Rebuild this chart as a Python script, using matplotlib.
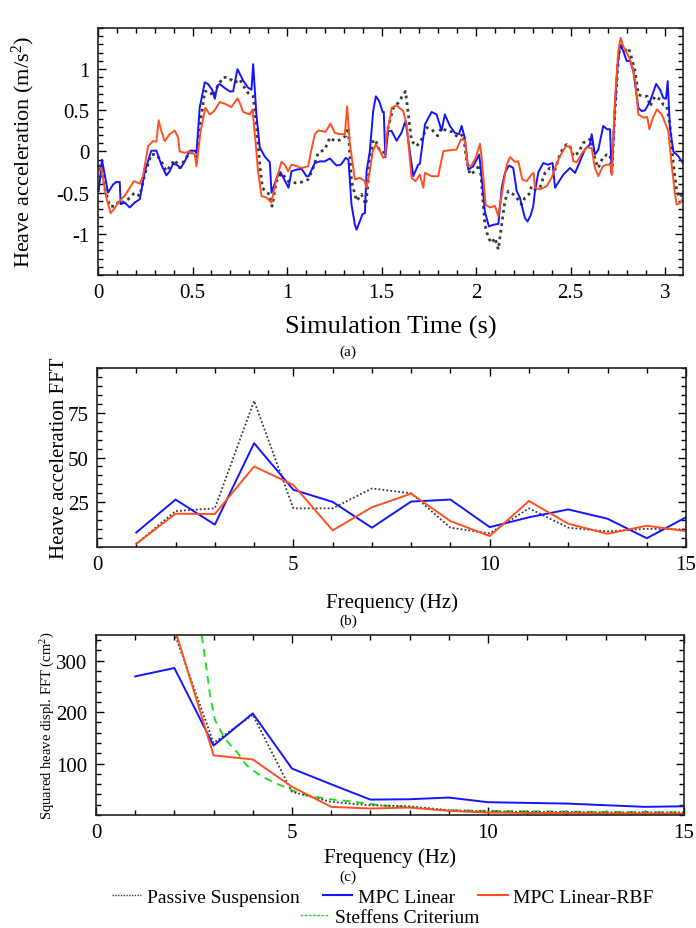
import numpy as np
import matplotlib
matplotlib.use("Agg")
import matplotlib.pyplot as plt
from matplotlib.ticker import MultipleLocator, FuncFormatter
from matplotlib.lines import Line2D

plt.rcParams['font.family'] = ['Liberation Serif', 'DejaVu Serif']
plt.rcParams['mathtext.fontset'] = 'custom'
plt.rcParams['mathtext.rm'] = 'Liberation Serif'
plt.rcParams['mathtext.it'] = 'Liberation Serif:italic'
plt.rcParams['axes.unicode_minus'] = False

# ---- (a) heave acceleration time series ----
t_mpc = [0.004, 0.021, 0.053, 0.080, 0.097, 0.115, 0.120, 0.141, 0.168, 0.194, 0.221, 0.247, 0.282, 0.309,
         0.335, 0.362, 0.379, 0.397, 0.415, 0.438, 0.459, 0.485, 0.512, 0.521, 0.538, 0.565, 0.582, 0.604,
         0.618, 0.632, 0.644, 0.671, 0.697, 0.715, 0.738, 0.768, 0.794, 0.812, 0.821, 0.838, 0.856, 0.882,
         0.909, 0.918, 0.944, 0.965, 1.008, 1.024, 1.050, 1.077, 1.103, 1.115, 1.147, 1.174, 1.200, 1.227,
         1.262, 1.285, 1.311, 1.325, 1.341, 1.359, 1.368, 1.385, 1.400, 1.412, 1.421, 1.438, 1.456, 1.470,
         1.488, 1.506, 1.512, 1.520, 1.535, 1.553, 1.580, 1.606, 1.627, 1.650, 1.668, 1.694, 1.703, 1.730,
         1.765, 1.791, 1.818, 1.835, 1.862, 1.888, 1.910, 1.924, 1.941, 1.959, 1.985, 2.017, 2.030, 2.047,
         2.068, 2.091, 2.118, 2.136, 2.153, 2.174, 2.197, 2.215, 2.232, 2.259, 2.273, 2.290, 2.303, 2.312,
         2.330, 2.356, 2.380, 2.405, 2.418, 2.462, 2.497, 2.524, 2.550, 2.576, 2.603, 2.612, 2.629, 2.647,
         2.673, 2.694, 2.709, 2.718, 2.735, 2.748, 2.762, 2.779, 2.797, 2.815, 2.832, 2.859, 2.877, 2.894,
         2.921, 2.953, 2.974, 2.991, 3.005, 3.014, 3.026, 3.044, 3.070, 3.094]
a_mpc = [-0.48, -0.10, -0.50, -0.40, -0.37, -0.37, -0.64, -0.62, -0.68, -0.62, -0.58, -0.25, 0.01, 0.01,
         -0.16, -0.29, -0.24, -0.15, -0.16, -0.20, -0.12, 0.01, 0.01, -0.02, 0.53, 0.84, 0.82, 0.75,
         0.64, 0.80, 0.82, 0.77, 0.73, 0.73, 1.00, 0.86, 0.775, 0.75, 1.06, 0.45, 0.05, -0.06,
         -0.13, -0.50, -0.33, -0.25, -0.44, -0.24, -0.22, -0.21, -0.30, -0.30, -0.14, -0.12, -0.12, -0.085,
         -0.17, -0.16, -0.077, -0.10, -0.64, -0.89, -0.95, -0.85, -0.76, -0.75, -0.24, 0.00, 0.49, 0.67,
         0.61, 0.48, 0.48, -0.07, 0.25, 0.25, 0.13, 0.23, 0.37, 0.00, -0.30, -0.16, -0.15, 0.33,
         0.48, 0.45, 0.255, 0.45, 0.31, 0.227, 0.21, 0.31, 0.16, -0.22, -0.18, -0.037, -0.32, -0.73,
         -0.91, -0.89, -0.88, -0.44, -0.26, -0.17, -0.20, -0.48, -0.56, -0.81, -0.85, -0.77, -0.66, -0.48,
         -0.25, -0.14, -0.16, -0.14, -0.44, -0.28, -0.20, -0.26, -0.12, 0.024, 0.085, 0.21, -0.037, 0.02,
         0.31, 0.27, 0.27, -0.28, 0.53, 1.02, 1.30, 1.22, 1.10, 1.10, 0.98, 0.53, 0.49, 0.50,
         0.61, 0.82, 0.75, 0.65, 0.64, 0.855, 0.29, 0.00, -0.057, -0.14]

t_rbf = [0.000, 0.018, 0.044, 0.067, 0.088, 0.106, 0.141, 0.168, 0.190, 0.221, 0.238, 0.265, 0.291, 0.309,
         0.321, 0.335, 0.353, 0.379, 0.406, 0.424, 0.432, 0.459, 0.485, 0.512, 0.521, 0.543, 0.568, 0.591,
         0.614, 0.644, 0.671, 0.706, 0.738, 0.750, 0.768, 0.803, 0.817, 0.830, 0.847, 0.865, 0.891, 0.918,
         0.941, 0.971, 0.988, 1.006, 1.024, 1.041, 1.077, 1.112, 1.124, 1.147, 1.165, 1.205, 1.230, 1.253,
         1.279, 1.306, 1.318, 1.332, 1.359, 1.385, 1.412, 1.421, 1.438, 1.453, 1.470, 1.491, 1.509, 1.520,
         1.527, 1.544, 1.553, 1.580, 1.615, 1.633, 1.659, 1.680, 1.703, 1.721, 1.730, 1.765, 1.800, 1.827,
         1.853, 1.897, 1.920, 1.941, 1.956, 1.976, 1.998, 2.021, 2.030, 2.051, 2.074, 2.100, 2.118, 2.139,
         2.162, 2.180, 2.206, 2.224, 2.245, 2.268, 2.294, 2.305, 2.312, 2.338, 2.374, 2.400, 2.418, 2.444,
         2.476, 2.500, 2.515, 2.532, 2.559, 2.585, 2.612, 2.629, 2.647, 2.670, 2.691, 2.712, 2.718, 2.735,
         2.753, 2.765, 2.779, 2.806, 2.824, 2.841, 2.859, 2.886, 2.906, 2.917, 2.936, 2.957, 2.983, 3.000,
         3.017, 3.035, 3.053, 3.062, 3.079, 3.094]
a_rbf = [-0.24, -0.20, -0.56, -0.75, -0.69, -0.62, -0.54, -0.44, -0.36, -0.39, -0.30, 0.065, 0.126, 0.12,
         0.38, 0.25, 0.126, 0.21, 0.255, 0.17, 0.00, -0.016, 0.00, -0.036, -0.18, 0.25, 0.53, 0.45,
         0.49, 0.60, 0.58, 0.54, 0.645, 0.59, 0.48, 0.45, 0.51, 0.21, -0.24, -0.54, -0.56, -0.62,
         -0.36, -0.125, -0.16, -0.24, -0.16, -0.17, -0.20, -0.18, -0.036, 0.21, 0.255, 0.24, 0.34, 0.227,
         0.21, 0.21, 0.55, 0.105, -0.34, -0.32, -0.36, -0.44, -0.24, 0.00, 0.085, 0.01, -0.077, -0.05,
         0.20, 0.39, 0.53, 0.56, 0.49, 0.33, -0.32, -0.36, -0.28, -0.44, -0.26, -0.30, -0.30, 0.004,
         0.012, 0.024, 0.146, 0.14, -0.18, -0.17, -0.077, 0.093, -0.08, -0.645, -0.68, -0.66, -0.787, -0.48,
         -0.16, -0.069, -0.125, -0.12, -0.34, -0.36, -0.28, -0.26, -0.44, -0.46, -0.42, -0.32, -0.20, -0.057,
         0.065, 0.06, -0.118, -0.13, -0.028, 0.053, 0.04, -0.20, -0.30, -0.18, -0.16, -0.16, -0.28, 0.61,
         1.22, 1.38, 1.28, 1.16, 1.06, 0.876, 0.45, 0.41, 0.42, 0.27, 0.41, 0.51, 0.45, 0.35,
         0.25, -0.16, -0.52, -0.645, -0.625, -0.58]

t_pas = [0.000, 0.018, 0.035, 0.062, 0.088, 0.115, 0.141, 0.168, 0.194, 0.221, 0.247, 0.282, 0.309, 0.335,
         0.362, 0.388, 0.406, 0.432, 0.459, 0.485, 0.512, 0.521, 0.543, 0.565, 0.591, 0.609, 0.632, 0.662,
         0.688, 0.723, 0.750, 0.768, 0.794, 0.821, 0.835, 0.847, 0.856, 0.870, 0.891, 0.909, 0.921, 0.944,
         0.971, 1.006, 1.033, 1.068, 1.112, 1.138, 1.165, 1.200, 1.227, 1.253, 1.279, 1.311, 1.324, 1.341,
         1.368, 1.394, 1.417, 1.438, 1.456, 1.474, 1.491, 1.518, 1.535, 1.562, 1.588, 1.615, 1.627, 1.641,
         1.659, 1.686, 1.712, 1.739, 1.765, 1.797, 1.818, 1.844, 1.871, 1.906, 1.932, 1.950, 1.968, 1.994,
         2.021, 2.033, 2.047, 2.065, 2.083, 2.100, 2.118, 2.136, 2.153, 2.171, 2.197, 2.215, 2.241, 2.259,
         2.280, 2.294, 2.312, 2.338, 2.365, 2.391, 2.418, 2.444, 2.462, 2.480, 2.497, 2.515, 2.541, 2.568,
         2.594, 2.612, 2.629, 2.647, 2.670, 2.694, 2.709, 2.718, 2.735, 2.753, 2.765, 2.788, 2.806, 2.818,
         2.841, 2.859, 2.886, 2.906, 2.921, 2.947, 2.974, 2.991, 3.009, 3.026, 3.044, 3.062, 3.079, 3.094]
a_pas = [-0.18, -0.17, -0.44, -0.665, -0.665, -0.60, -0.62, -0.56, -0.50, -0.54, -0.28, -0.036, -0.036, -0.12,
         -0.24, -0.16, -0.10, -0.20, -0.10, -0.016, -0.016, -0.10, 0.37, 0.73, 0.73, 0.67, 0.79, 0.90,
         0.90, 0.835, 0.876, 0.80, 0.71, 0.67, 0.39, 0.085, -0.16, -0.44, -0.50, -0.52, -0.665, -0.36,
         -0.26, -0.36, -0.38, -0.38, -0.34, -0.20, -0.016, 0.024, 0.17, 0.126, 0.14, 0.19, 0.29, -0.36,
         -0.60, -0.52, -0.645, -0.16, 0.146, 0.105, 0.004, -0.016, 0.29, 0.53, 0.59, 0.69, 0.73, 0.47,
         0.126, 0.065, 0.146, 0.29, 0.27, 0.19, 0.29, 0.25, 0.24, 0.17, 0.21, -0.097, -0.28, -0.24,
         -0.16, -0.48, -0.89, -1.05, -1.11, -1.05, -1.19, -0.89, -0.60, -0.48, -0.52, -0.56, -0.645, -0.56,
         -0.52, -0.42, -0.46, -0.44, -0.26, -0.20, -0.22, -0.036, 0.045, 0.085, 0.065, -0.057, -0.016, 0.105,
         0.146, 0.146, -0.097, -0.20, -0.077, -0.036, -0.04, -0.28, 0.49, 1.14, 1.32, 1.22, 1.26, 1.18,
         0.98, 0.69, 0.67, 0.67, 0.55, 0.67, 0.63, 0.57, 0.55, 0.33, -0.16, -0.48, -0.56, -0.50]

# ---- (b) heave acceleration FFT ----
freq = [1, 2, 3, 4, 5, 6, 7, 8, 9, 10, 11, 12, 13, 14, 15]
fft_pas = [1.8, 20.1, 21.6, 81.6, 21.6, 21.6, 32.7, 30.0, 10.8, 7.6, 21.6, 10.8, 8.7, 10.2, 9.8]
fft_mpc = [8.1, 26.5, 12.5, 58.0, 32.0, 25.2, 10.8, 25.4, 26.5, 11.1, 16.6, 21.0, 15.8, 4.9, 16.6]
fft_rbf = [1.8, 18.6, 18.4, 45.0, 34.7, 9.3, 22.2, 29.8, 14.5, 6.1, 25.7, 13.0, 7.4, 11.9, 8.9]

# ---- (c) squared heave displacement FFT ----
disp_pas = [np.nan, 354, 140, 195, 45, 25.6, 19, 17, 9.3, 7.4, 6, 6, 5, 5, 5]
disp_mpc = [269.5, 285.8, 135, 197.5, 90.3, 59.8, 30, 30.7, 34, 24.9, 23.6, 22.3, 19.1, 15.9, 17]
disp_rbf = [np.nan, 365, 116, 108, 55, 15.9, 12.6, 14.6, 8.2, 4.9, 4, 4, 3, 3, 3]
f_steffens = [2.70, 2.82, 2.91, 3.04, 3.29, 3.59, 3.84, 4.18, 4.52, 4.86, 5.20, 5.62, 6.13, 6.47,
              7.24, 8.0, 8.93, 10.0, 10.9, 12.0, 13.0, 14.0, 15.0]
steffens = [349, 284, 233, 184, 148, 123, 97, 77, 64, 53, 42, 35, 29, 27,
            19, 15, 9.3, 8, 7.4, 6.5, 6, 5.5, 5]

c_pas = '#3a3a3a'
c_mpc = '#1414ff'
c_rbf = '#ff5020'
c_ste = '#22dd22'
dot_a = (0, (1, 1.4))

fig = plt.figure(figsize=(6.96, 9.29), dpi=100)
ax1 = fig.add_axes([0.1408, 0.7029, 0.8405, 0.2659])
ax2 = fig.add_axes([0.1394, 0.4101, 0.8463, 0.1927])
ax3 = fig.add_axes([0.1379, 0.1216, 0.8448, 0.1938])

fmt = FuncFormatter(lambda v, p: '%g' % v)


def style(ax, labelsize):
    ax.tick_params(which='both', direction='in', top=True, right=True, width=1.0,
                   labelsize=labelsize, pad=6)
    ax.tick_params(which='major', length=6)
    ax.tick_params(which='minor', length=3.5)
    for s in ax.spines.values():
        s.set_linewidth(1.2)
        s.set_color('#222222')
    ax.xaxis.set_major_formatter(fmt)
    ax.yaxis.set_major_formatter(fmt)


# (a)
ax1.plot(t_pas, a_pas, color=c_pas, lw=2.0, ls=dot_a)
ax1.plot(t_mpc, a_mpc, color=c_mpc, lw=1.4)
ax1.plot(t_rbf, a_rbf, color=c_rbf, lw=1.4)
ax1.set_xlim(0, 3.095)
ax1.set_ylim(-1.5, 1.5)
ax1.set_xticks([0, 0.5, 1, 1.5, 2, 2.5, 3])
ax1.set_yticks([-1, -0.5, 0, 0.5, 1])
ax1.xaxis.set_minor_locator(MultipleLocator(0.1))
ax1.yaxis.set_minor_locator(MultipleLocator(0.1))
style(ax1, 15)
ax1.set_xlabel('Simulation Time (s)', fontsize=19)
ax1.set_ylabel(r'Heave acceleration (m/s$^2$)', fontsize=16)
ax1.xaxis.set_label_coords(0.5, -0.16)
ax1.yaxis.set_label_coords(-0.104, 0.5)

# (b)
ax2.plot(freq, fft_pas, color=c_pas, lw=1.3, ls=(0, (1, 1.2)))
ax2.plot(freq, fft_mpc, color=c_mpc, lw=1.4)
ax2.plot(freq, fft_rbf, color=c_rbf, lw=1.4)
ax2.set_xlim(0, 15)
ax2.set_ylim(0, 100)
ax2.set_xticks([0, 5, 10, 15])
ax2.set_yticks([25, 50, 75])
ax2.xaxis.set_minor_locator(MultipleLocator(1))
ax2.yaxis.set_minor_locator(MultipleLocator(5))
style(ax2, 15)
ax2.set_xlabel('Frequency (Hz)', fontsize=15)
ax2.set_ylabel('Heave acceleration FFT', fontsize=15)
ax2.xaxis.set_label_coords(0.5, -0.25)
ax2.yaxis.set_label_coords(-0.047, 0.5)

# (c)
ax3.plot(f_steffens, steffens, color=c_ste, lw=1.4, ls=(0, (4, 3)))
ax3.plot(freq, disp_pas, color=c_pas, lw=1.3, ls=(0, (1, 1.2)))
ax3.plot(freq, disp_mpc, color=c_mpc, lw=1.4)
ax3.plot(freq, disp_rbf, color=c_rbf, lw=1.4)
ax3.set_xlim(0, 15)
ax3.set_ylim(0, 350)
ax3.set_xticks([0, 5, 10, 15])
ax3.set_yticks([100, 200, 300])
ax3.xaxis.set_minor_locator(MultipleLocator(1))
ax3.yaxis.set_minor_locator(MultipleLocator(20))
style(ax3, 15)
ax3.set_xlabel('Frequency (Hz)', fontsize=15)
ax3.set_ylabel(r'Squared heave displ. FFT (cm$^2$)', fontsize=10.5)
ax3.xaxis.set_label_coords(0.5, -0.18)
ax3.yaxis.set_label_coords(-0.066, 0.5)

# captions
fig.text(0.5, 1 - 352 / 929, '(a)', ha='center', va='center', fontsize=11)
fig.text(0.5, 1 - 621 / 929, '(b)', ha='center', va='center', fontsize=11)
fig.text(0.5, 1 - 877 / 929, '(c)', ha='center', va='center', fontsize=11)

# legend
h1 = [Line2D([], [], color=c_pas, lw=1.0, ls=(0, (1, 1))),
      Line2D([], [], color=c_mpc, lw=1.5),
      Line2D([], [], color=c_rbf, lw=1.5)]
fig.legend(h1, ['Passive Suspension', 'MPC Linear', 'MPC Linear-RBF'], ncol=3,
           loc='center', bbox_to_anchor=(0.55, 1 - 898 / 929), frameon=False,
           fontsize=14, handlelength=1.5, handletextpad=0.3, columnspacing=1.2)
h2 = [Line2D([], [], color=c_ste, lw=1.0, ls=(0, (2, 1)))]
fig.legend(h2, ['Steffens Criterium'], loc='center', bbox_to_anchor=(0.56, 1 - 918 / 929),
           frameon=False, fontsize=14, handlelength=1.5, handletextpad=0.3)

fig.savefig('out.png', dpi=100)
